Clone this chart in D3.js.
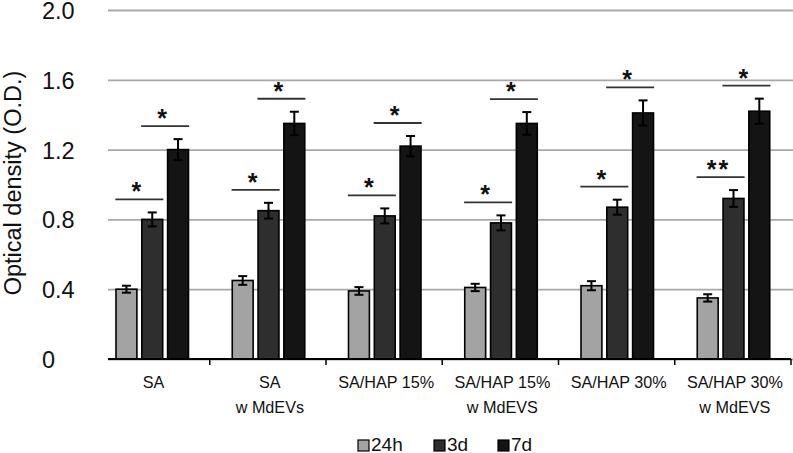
<!DOCTYPE html>
<html>
<head>
<meta charset="utf-8">
<script src="https://cdn.jsdelivr.net/npm/d3@7"></script>
<style>
  body { margin: 0; background: #fff; }
  svg { font-family: "Liberation Sans", Arial, sans-serif; }
</style>
</head>
<body>
<div id="plot"></div>
<script>
// data
const categories = ["SA", "SA\nw MdEVs", "SA/HAP 15%", "SA/HAP 15%\nw MdEVS", "SA/HAP 30%", "SA/HAP 30%\nw MdEVS"];
const series = ["24h", "3d", "7d"];
const colors = ["#a3a3a3", "#2e2e2e", "#141414"];
const values24h = [0.40, 0.45, 0.39, 0.41, 0.42, 0.35];
const values3d  = [0.80, 0.85, 0.82, 0.78, 0.87, 0.92];
const values7d  = [1.20, 1.35, 1.22, 1.35, 1.41, 1.42];
const err24h = [0.02, 0.025, 0.022, 0.021, 0.026, 0.021];
const err3d  = [0.04, 0.045, 0.043, 0.043, 0.043, 0.048];
const err7d  = [0.06, 0.067, 0.058, 0.065, 0.072, 0.072];
// significance marks: first = 24h vs 3d, second = 3d vs 7d
const sig1 = ["*", "*", "*", "*", "*", "**"];
const sig2 = ["*", "*", "*", "*", "*", "*"];
const yTicks = [0, 0.4, 0.8, 1.2, 1.6, 2.0];

const w = 793, h = 453;
const plotLeft = 108, plotRight = 793;

const svg = d3.select("#plot").append("svg")
  .attr("width", w).attr("height", h);

const x = d3.scaleBand().domain(categories).range([93.5, 791]).paddingInner(0).paddingOuter(0);
const xs = d3.scaleBand().domain(series).range([22.5, 95]).paddingInner(0.19);
const y = d3.scaleLinear().domain([0, 2]).range([359, 10]);

// grid + y labels
const yAxis = d3.axisLeft(y).tickValues(yTicks).tickSize(-(plotRight - plotLeft))
  .tickFormat(d => d === 0 ? "0" : d.toFixed(1));
const gy = svg.append("g").attr("transform", "translate(" + plotLeft + ",0)").call(yAxis);
gy.select(".domain").remove();
gy.selectAll(".tick line").attr("stroke", "#a8a8a8").attr("stroke-width", 1.8);
gy.selectAll(".tick text")
  .attr("x", 42 - plotLeft).attr("dy", "0.36em")
  .attr("text-anchor", "start")
  .attr("font-size", 23.5).attr("fill", "#111")
  .style("font-family", "'Liberation Sans', Arial, sans-serif");

svg.append("text")
  .attr("transform", "translate(21,183) rotate(-90)")
  .attr("text-anchor", "middle")
  .attr("font-size", 23.5).attr("fill", "#111")
  .text("Optical density (O.D.)");

// bars
const table = categories.map((c, i) => ({
  cat: c,
  bars: [
    {s: "24h", v: values24h[i], e: err24h[i], c: colors[0]},
    {s: "3d", v: values3d[i], e: err3d[i], c: colors[1]},
    {s: "7d", v: values7d[i], e: err7d[i], c: colors[2]}
  ],
  sig: [sig1[i], sig2[i]]
}));

const groups = svg.selectAll(".grp").data(table).enter().append("g")
  .attr("class", "grp")
  .attr("transform", d => "translate(" + x(d.cat) + ",0)");

groups.selectAll("rect").data(d => d.bars).enter().append("rect")
  .attr("x", d => xs(d.s))
  .attr("y", d => y(d.v))
  .attr("width", xs.bandwidth())
  .attr("height", d => y(0) - y(d.v))
  .attr("fill", d => d.c)
  .attr("stroke", "#000")
  .attr("stroke-width", 1.6);

// error bars
const eb = groups.selectAll(".err").data(d => d.bars).enter().append("g").attr("class", "err")
  .attr("stroke", "#000").attr("stroke-width", 2);
eb.append("line")
  .attr("x1", d => xs(d.s) + xs.bandwidth() / 2).attr("x2", d => xs(d.s) + xs.bandwidth() / 2)
  .attr("y1", d => y(d.v - d.e)).attr("y2", d => y(d.v + d.e));
eb.append("line")
  .attr("x1", d => xs(d.s) + xs.bandwidth() / 2 - 4.5).attr("x2", d => xs(d.s) + xs.bandwidth() / 2 + 4.5)
  .attr("y1", d => y(d.v + d.e)).attr("y2", d => y(d.v + d.e));
eb.append("line")
  .attr("x1", d => xs(d.s) + xs.bandwidth() / 2 - 4.5).attr("x2", d => xs(d.s) + xs.bandwidth() / 2 + 4.5)
  .attr("y1", d => y(d.v - d.e)).attr("y2", d => y(d.v - d.e));

// significance lines
groups.each(function(d) {
  const g = d3.select(this);
  [0, 1].forEach(k => {
    const a = d.bars[k], b = d.bars[k + 1];
    const mid = (xs(a.s) + xs.bandwidth() + xs(b.s)) / 2;
    const ly = y(b.v + b.e) - 13;
    g.append("line")
      .attr("x1", mid - 24).attr("x2", mid + 24)
      .attr("y1", ly).attr("y2", ly)
      .attr("stroke", "#333").attr("stroke-width", 1.8);
    g.append("text")
      .attr("x", mid - 2).attr("y", ly + 1)
      .attr("text-anchor", "middle")
      .attr("font-size", 25).attr("font-weight", "bold").attr("fill", "#111")
      .attr("letter-spacing", 2)
      .text(d.sig[k]);
  });
});

// x axis
svg.append("line")
  .attr("x1", plotLeft).attr("x2", 791)
  .attr("y1", y(0)).attr("y2", y(0))
  .attr("stroke", "#000").attr("stroke-width", 2);
svg.selectAll(".xtick").data(categories).enter().append("line")
  .attr("class", "xtick")
  .attr("x1", d => x(d) + x.bandwidth()).attr("x2", d => x(d) + x.bandwidth())
  .attr("y1", y(0)).attr("y2", y(0) + 6)
  .attr("stroke", "#000").attr("stroke-width", 1.5);

const xl = svg.selectAll(".xlab").data(categories).enter().append("text")
  .attr("class", "xlab")
  .attr("text-anchor", "middle")
  .attr("font-size", 16.2).attr("fill", "#111");
xl.selectAll("tspan").data(d => d.split("\n").map(t => ({t, c: d}))).enter().append("tspan")
  .attr("x", d => x(d.c) + x.bandwidth() / 2 + 2)
  .attr("y", (d, i) => 387.5 + i * 25.5)
  .text(d => d.t);

// legend
const legX = [358, 434, 498];
const leg = svg.selectAll(".leg").data(series).enter().append("g").attr("class", "leg")
  .attr("transform", (d, i) => "translate(" + legX[i] + ",440)");
leg.append("rect")
  .attr("width", 11).attr("height", 11)
  .attr("fill", (d, i) => colors[i])
  .attr("stroke", "#000").attr("stroke-width", 1.2);
leg.append("text")
  .attr("x", 13).attr("y", 10.5)
  .attr("font-size", 19).attr("fill", "#111")
  .text(d => d);
</script>
</body>
</html>
